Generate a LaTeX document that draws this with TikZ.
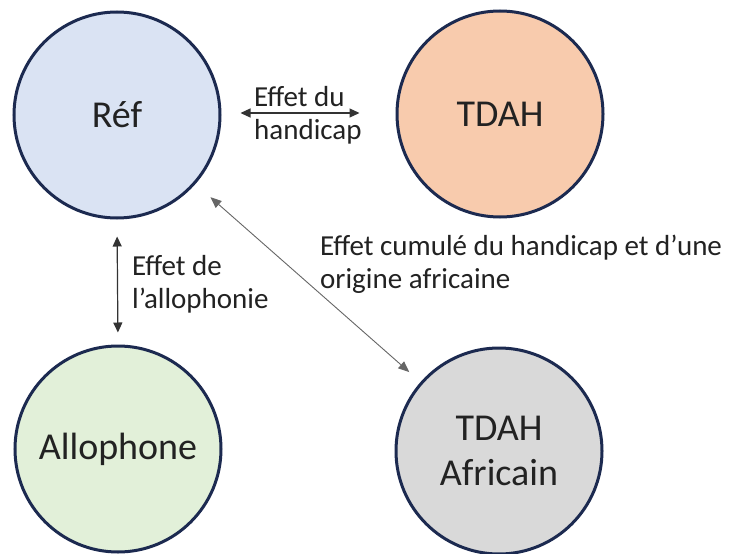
\documentclass[tikz,border=0pt]{standalone}
\usepackage{fontspec}
\setmainfont{Carlito}
\usetikzlibrary{arrows.meta}
\definecolor{navy}{HTML}{1C2A50}
\definecolor{fref}{HTML}{DAE3F3}
\definecolor{ftdah}{HTML}{F8CBAD}
\definecolor{fallo}{HTML}{E2F0D9}
\definecolor{fafr}{HTML}{D9D9D9}
\definecolor{txt}{HTML}{222222}
\begin{document}
\begin{tikzpicture}[x=1pt,y=-1pt,
  disc/.style={circle,draw=navy,line width=3pt,minimum size=206pt,inner sep=0pt,
    font=\fontsize{38}{45}\selectfont,text=txt,align=center},
  lab/.style={font=\fontsize{29}{33}\selectfont,text=txt,align=left,inner sep=0pt,anchor=north west},
  arr/.style={{Triangle[length=10pt,width=9pt]}-{Triangle[length=10pt,width=9pt]},line width=1.2pt,draw=black!80},
  darr/.style={{Triangle[length=11pt,width=9pt]}-{Triangle[length=11pt,width=9pt]},line width=0.9pt,draw=black!60}]
\useasboundingbox[fill=white] (0,0) rectangle (731,554);
\node[disc,fill=fref] (Ref) at (117,115) {Réf};
\node[disc,fill=ftdah] (TDAH) at (500,114) {TDAH};
\node[disc,fill=fallo] (Allo) at (118,449) {Allophone};
\node[disc,fill=fafr] (Afr) at (499,451) {TDAH\\Africain};
\draw[arr] ([xshift=19pt,yshift=2pt]Ref.east) -- ([xshift=-36pt,yshift=1pt]TDAH.west);
\draw[arr,shorten <=17pt,shorten >=12pt] (Ref.south) -- (Allo.north);
\draw[darr,shorten <=20pt,shorten >=15pt] (Ref) -- (Afr);
\node[lab] (l1) at (254,86) {Effet du\\handicap};
\node[lab] (l2) at (132,255) {Effet de\\l’allophonie};
\node[lab] (l3) at (320,235) {Effet cumulé du handicap et d’une\\origine africaine};
\end{tikzpicture}
\end{document}
